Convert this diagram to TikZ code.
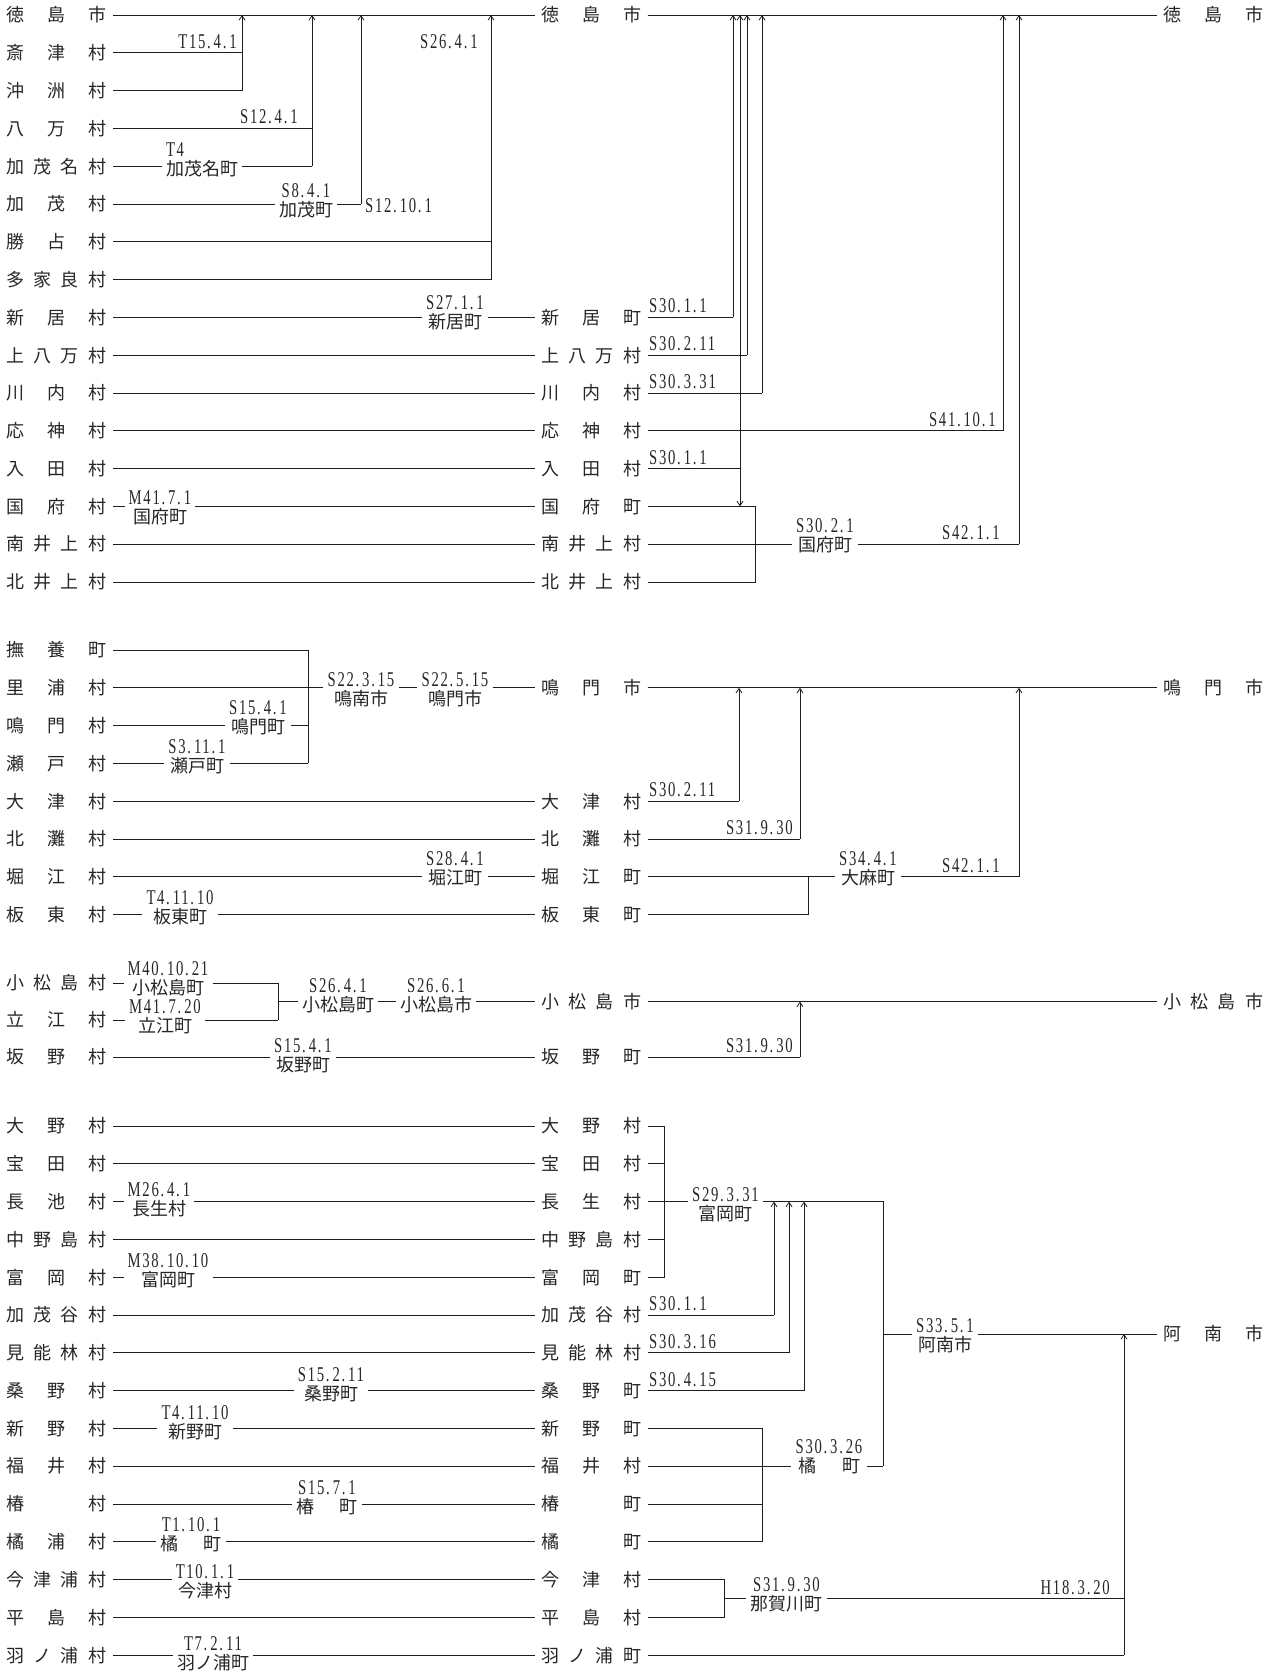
\documentclass[tikz,border=0pt]{standalone}
\usepackage{fontspec}
\usetikzlibrary{arrows.meta}
\newfontfamily\cjkf{Noto Sans CJK JP}
\newfontfamily\datef[FakeStretch=0.7,LetterSpace=8]{Liberation Serif}
\newcommand\nmf{\cjkf\fontsize{18}{19}\selectfont}
\newcommand\dtf{\datef\fontsize{21}{19}\selectfont}
\newcommand\pd{.\kern3pt}
\newcommand\spr[1]{\makebox[100pt][s]{#1}}
\newcommand\hf{\hfill}
\definecolor{txt}{HTML}{262626}
\definecolor{lc}{HTML}{1e1e1e}
\tikzset{
  rl/.style={anchor=west, inner xsep=6.5pt, inner ysep=1pt, font=\nmf, text=txt},
  nl/.style={align=center, inner xsep=4pt, inner ysep=0pt, font=\nmf, text=txt},
  dl/.style={inner sep=0pt, font=\dtf, text=txt},
  ln/.style={draw=lc, line width=0.9pt},
  ar/.style={ln, -{Straight Barb[length=4.5pt,width=6pt,line width=0.8pt]}},
}
\begin{document}
\begin{tikzpicture}[x=1pt,y=-1pt]
\path[use as bounding box] (0,0) rectangle (1274,1671);
% ================= Section 1 =================
\node[rl] (L0) at (-0.5,15) {\spr{徳\hf 島\hf 市}};
\node[rl] (L1) at (-0.5,52.8) {\spr{斎\hf 津\hf 村}};
\node[rl] (L2) at (-0.5,90.6) {\spr{沖\hf 洲\hf 村}};
\node[rl] (L3) at (-0.5,128.4) {\spr{八\hf 万\hf 村}};
\node[rl] (L4) at (-0.5,166.2) {\spr{加\hf 茂\hf 名\hf 村}};
\node[rl] (L5) at (-0.5,204) {\spr{加\hf 茂\hf 村}};
\node[rl] (L6) at (-0.5,241.8) {\spr{勝\hf 占\hf 村}};
\node[rl] (L7) at (-0.5,279.6) {\spr{多\hf 家\hf 良\hf 村}};
\node[rl] (L8) at (-0.5,317.4) {\spr{新\hf 居\hf 村}};
\node[rl] (L9) at (-0.5,355.2) {\spr{上\hf 八\hf 万\hf 村}};
\node[rl] (L10) at (-0.5,393) {\spr{川\hf 内\hf 村}};
\node[rl] (L11) at (-0.5,430.8) {\spr{応\hf 神\hf 村}};
\node[rl] (L12) at (-0.5,468.6) {\spr{入\hf 田\hf 村}};
\node[rl] (L13) at (-0.5,506.4) {\spr{国\hf 府\hf 村}};
\node[rl] (L14) at (-0.5,544.2) {\spr{南\hf 井\hf 上\hf 村}};
\node[rl] (L15) at (-0.5,582) {\spr{北\hf 井\hf 上\hf 村}};
\node[rl] (M0) at (534.5,15) {\spr{徳\hf 島\hf 市}};
\node[rl] (M8) at (534.5,317.4) {\spr{新\hf 居\hf 町}};
\node[rl] (M9) at (534.5,355.2) {\spr{上\hf 八\hf 万\hf 村}};
\node[rl] (M10) at (534.5,393) {\spr{川\hf 内\hf 村}};
\node[rl] (M11) at (534.5,430.8) {\spr{応\hf 神\hf 村}};
\node[rl] (M12) at (534.5,468.6) {\spr{入\hf 田\hf 村}};
\node[rl] (M13) at (534.5,506.4) {\spr{国\hf 府\hf 町}};
\node[rl] (M14) at (534.5,544.2) {\spr{南\hf 井\hf 上\hf 村}};
\node[rl] (M15) at (534.5,582) {\spr{北\hf 井\hf 上\hf 村}};
\node[rl] (R0) at (1156.5,15) {\spr{徳\hf 島\hf 市}};
% change labels
\node[nl, align=left] (n4) at (202,160.2) {{\dtf T4}\\加茂名町};
\node[nl] (n5) at (306,201) {{\dtf S8\pd 4\pd 1}\\加茂町};
\node[nl] (n8) at (455,312.4) {{\dtf S27\pd 1\pd 1}\\新居町};
\node[nl] (n13) at (160,507.4) {{\dtf M41\pd 7\pd 1}\\国府町};
\node[nl] (n14) at (825,536.2) {{\dtf S30\pd 2\pd 1}\\国府町};
\node[dl, anchor=base east] (d1) at (237,48.3) {T15\pd 4\pd 1};
\node[dl, anchor=base east] (d3) at (298,123.9) {S12\pd 4\pd 1};
\node[dl, anchor=west] (d5) at (365,205.5) {S12\pd 10\pd 1};
\node[dl, anchor=base east] (d7) at (478,48.3) {S26\pd 4\pd 1};
\node[dl, anchor=base west] (e8) at (649,312.9) {S30\pd 1\pd 1};
\node[dl, anchor=base west] (e9) at (649,350.7) {S30\pd 2\pd 11};
\node[dl, anchor=base west] (e10) at (649,388.5) {S30\pd 3\pd 31};
\node[dl, anchor=base east] (e11) at (996,426.3) {S41\pd 10\pd 1};
\node[dl, anchor=base west] (e12) at (649,464.1) {S30\pd 1\pd 1};
\node[dl, anchor=base east] (e14) at (1000,539.7) {S42\pd 1\pd 1};
% junctions
\coordinate (a1) at (242,52.8); \coordinate (a2) at (242,90.6);
\coordinate (a3) at (312,128.4); \coordinate (a4) at (312,166.2);
\coordinate (a5) at (361,204);
\coordinate (a6) at (491,241.8); \coordinate (a7) at (491,279.6);
\coordinate (c8) at (733,317.4); \coordinate (c9) at (747,355.2);
\coordinate (c10) at (762,393); \coordinate (c11) at (1003,430.8);
\coordinate (c12) at (740,468.6); \coordinate (c13) at (740,506.4);
\coordinate (k13) at (755,506.4); \coordinate (k15) at (755,582);
\coordinate (c14) at (1019,544.2);
% lines
\draw[ln] (L0.east) -- (M0.west);
\draw[ln] (M0.east) -- (R0.west);
\draw[ln] (L1.east) -- (a1);
\draw[ln] (L2.east) -- (a2);
\draw[ar] (a2) -- (a2 |- L0.east);
\draw[ln] (L3.east) -- (a3);
\draw[ln] (L4.east) -- (n4.west |- L4.east);
\draw[ln] (n4.east |- L4.east) -- (a4);
\draw[ar] (a4) -- (a4 |- L0.east);
\draw[ln] (L5.east) -- (n5.west |- L5.east);
\draw[ln] (n5.east |- L5.east) -- (a5);
\draw[ar] (a5) -- (a5 |- L0.east);
\draw[ln] (L6.east) -- (a6);
\draw[ln] (L7.east) -- (a7);
\draw[ar] (a7) -- (a7 |- L0.east);
\draw[ln] (L8.east) -- (n8.west |- L8.east);
\draw[ln] (n8.east |- L8.east) -- (M8.west);
\draw[ln] (L9.east) -- (M9.west);
\draw[ln] (L10.east) -- (M10.west);
\draw[ln] (L11.east) -- (M11.west);
\draw[ln] (L12.east) -- (M12.west);
\draw[ln] (L13.east) -- (n13.west |- L13.east);
\draw[ln] (n13.east |- L13.east) -- (M13.west);
\draw[ln] (L14.east) -- (M14.west);
\draw[ln] (L15.east) -- (M15.west);
\draw[ln] (M8.east) -- (c8);
\draw[ar] (c8) -- (c8 |- M0.east);
\draw[ln] (M9.east) -- (c9);
\draw[ar] (c9) -- (c9 |- M0.east);
\draw[ln] (M10.east) -- (c10);
\draw[ar] (c10) -- (c10 |- M0.east);
\draw[ln] (M11.east) -- (c11);
\draw[ar] (c11) -- (c11 |- M0.east);
\draw[ln] (M12.east) -- (c12);
\draw[ar] (c12) -- (c12 |- M0.east);
\draw[ar] (c12) -- (c13);
\draw[ln] (M13.east) -- (k13) -- (k15) -- (M15.east);
\draw[ln] (M14.east) -- (n14.west |- M14.east);
\draw[ln] (n14.east |- M14.east) -- (c14);
\draw[ar] (c14) -- (c14 |- M0.east);
% ================= Section 2 =================
\node[rl] (P0) at (-0.5,650) {\spr{撫\hf 養\hf 町}};
\node[rl] (P1) at (-0.5,687.8) {\spr{里\hf 浦\hf 村}};
\node[rl] (P2) at (-0.5,725.6) {\spr{鳴\hf 門\hf 村}};
\node[rl] (P3) at (-0.5,763.4) {\spr{瀬\hf 戸\hf 村}};
\node[rl] (P4) at (-0.5,801.2) {\spr{大\hf 津\hf 村}};
\node[rl] (P5) at (-0.5,839) {\spr{北\hf 灘\hf 村}};
\node[rl] (P6) at (-0.5,876.8) {\spr{堀\hf 江\hf 村}};
\node[rl] (P7) at (-0.5,914.6) {\spr{板\hf 東\hf 村}};
\node[rl] (Q1) at (534.5,687.8) {\spr{鳴\hf 門\hf 市}};
\node[rl] (Q4) at (534.5,801.2) {\spr{大\hf 津\hf 村}};
\node[rl] (Q5) at (534.5,839) {\spr{北\hf 灘\hf 村}};
\node[rl] (Q6) at (534.5,876.8) {\spr{堀\hf 江\hf 町}};
\node[rl] (Q7) at (534.5,914.6) {\spr{板\hf 東\hf 町}};
\node[rl] (RQ) at (1156.5,687.8) {\spr{鳴\hf 門\hf 市}};
\node[nl] (p1a) at (361,689.8) {{\dtf S22\pd 3\pd 15}\\鳴南市};
\node[nl] (p1b) at (455,689.8) {{\dtf S22\pd 5\pd 15}\\鳴門市};
\node[nl] (p2) at (258,717.6) {{\dtf S15\pd 4\pd 1}\\鳴門町};
\node[nl] (p3) at (197,756.4) {{\dtf S3\pd 11\pd 1}\\瀬戸町};
\node[nl] (p6) at (455,868.8) {{\dtf S28\pd 4\pd 1}\\堀江町};
\node[nl] (p7) at (180,907.6) {{\dtf T4\pd 11\pd 10}\\板東町};
\node[nl] (q6) at (868,868.8) {{\dtf S34\pd 4\pd 1}\\大麻町};
\node[dl, anchor=base west] (f4) at (649,796.7) {S30\pd 2\pd 11};
\node[dl, anchor=base east] (f5) at (793,834.5) {S31\pd 9\pd 30};
\node[dl, anchor=base east] (f6) at (1000,872.3) {S42\pd 1\pd 1};
\coordinate (b0) at (308,650); \coordinate (b2) at (308,725.6); \coordinate (b3) at (308,763.4);
\coordinate (g4) at (739,801.2); \coordinate (g5) at (800,839);
\coordinate (g6) at (1019,876.8); \coordinate (g7) at (808,914.6); \coordinate (g6b) at (808,876.8);
\draw[ln] (P0.east) -- (b0) -- (b3);
\draw[ln] (P1.east) -- (p1a.west |- P1.east);
\draw[ln] (p1a.east |- P1.east) -- (p1b.west |- P1.east);
\draw[ln] (p1b.east |- P1.east) -- (Q1.west);
\draw[ln] (P2.east) -- (p2.west |- P2.east);
\draw[ln] (p2.east |- P2.east) -- (b2);
\draw[ln] (P3.east) -- (p3.west |- P3.east);
\draw[ln] (p3.east |- P3.east) -- (b3);
\draw[ln] (P4.east) -- (Q4.west);
\draw[ln] (P5.east) -- (Q5.west);
\draw[ln] (P6.east) -- (p6.west |- P6.east);
\draw[ln] (p6.east |- P6.east) -- (Q6.west);
\draw[ln] (P7.east) -- (p7.west |- P7.east);
\draw[ln] (p7.east |- P7.east) -- (Q7.west);
\draw[ln] (Q1.east) -- (RQ.west);
\draw[ln] (Q4.east) -- (g4);
\draw[ar] (g4) -- (g4 |- Q1.east);
\draw[ln] (Q5.east) -- (g5);
\draw[ar] (g5) -- (g5 |- Q1.east);
\draw[ln] (Q6.east) -- (q6.west |- Q6.east);
\draw[ln] (q6.east |- Q6.east) -- (g6);
\draw[ar] (g6) -- (g6 |- Q1.east);
\draw[ln] (Q7.east) -- (g7) -- (g6b);
% ================= Section 3 =================
\node[rl] (K0) at (-0.5,983) {\spr{小\hf 松\hf 島\hf 村}};
\node[rl] (K1) at (-0.5,1020) {\spr{立\hf 江\hf 村}};
\node[rl] (K2) at (-0.5,1057) {\spr{坂\hf 野\hf 村}};
\node[rl] (KM) at (534.5,1001.5) {\spr{小\hf 松\hf 島\hf 市}};
\node[rl] (K2M) at (534.5,1057) {\spr{坂\hf 野\hf 町}};
\node[rl] (KR) at (1156.5,1001.5) {\spr{小\hf 松\hf 島\hf 市}};
\node[nl] (k0) at (168,979) {{\dtf M40\pd 10\pd 21}\\小松島町};
\node[nl] (k1) at (165,1017) {{\dtf M41\pd 7\pd 20}\\立江町};
\node[nl] (k2a) at (338,995.5) {{\dtf S26\pd 4\pd 1}\\小松島町};
\node[nl] (k2b) at (436,995.5) {{\dtf S26\pd 6\pd 1}\\小松島市};
\node[nl] (k3) at (303,1056) {{\dtf S15\pd 4\pd 1}\\坂野町};
\node[dl, anchor=base east] (g2) at (793,1052.5) {S31\pd 9\pd 30};
\coordinate (m0) at (278,983); \coordinate (m1) at (278,1020); \coordinate (mm) at (278,1001.5);
\coordinate (m3) at (800,1057);
\draw[ln] (K0.east) -- (k0.west |- K0.east);
\draw[ln] (k0.east |- K0.east) -- (m0) -- (m1);
\draw[ln] (K1.east) -- (k1.west |- K1.east);
\draw[ln] (k1.east |- K1.east) -- (m1);
\draw[ln] (mm) -- (k2a.west |- mm);
\draw[ln] (k2a.east |- mm) -- (k2b.west |- mm);
\draw[ln] (k2b.east |- mm) -- (KM.west);
\draw[ln] (K2.east) -- (k3.west |- K2.east);
\draw[ln] (k3.east |- K2.east) -- (K2M.west);
\draw[ln] (KM.east) -- (KR.west);
\draw[ln] (K2M.east) -- (m3);
\draw[ar] (m3) -- (m3 |- KM.east);
% ================= Section 4 =================
\node[rl] (A0) at (-0.5,1126) {\spr{大\hf 野\hf 村}};
\node[rl] (A1) at (-0.5,1163.8) {\spr{宝\hf 田\hf 村}};
\node[rl] (A2) at (-0.5,1201.6) {\spr{長\hf 池\hf 村}};
\node[rl] (A3) at (-0.5,1239.4) {\spr{中\hf 野\hf 島\hf 村}};
\node[rl] (A4) at (-0.5,1277.2) {\spr{富\hf 岡\hf 村}};
\node[rl] (A5) at (-0.5,1315) {\spr{加\hf 茂\hf 谷\hf 村}};
\node[rl] (A6) at (-0.5,1352.8) {\spr{見\hf 能\hf 林\hf 村}};
\node[rl] (A7) at (-0.5,1390.6) {\spr{桑\hf 野\hf 村}};
\node[rl] (A8) at (-0.5,1428.4) {\spr{新\hf 野\hf 村}};
\node[rl] (A9) at (-0.5,1466.2) {\spr{福\hf 井\hf 村}};
\node[rl] (A10) at (-0.5,1504) {\spr{椿\hf 村}};
\node[rl] (A11) at (-0.5,1541.8) {\spr{橘\hf 浦\hf 村}};
\node[rl] (A12) at (-0.5,1579.6) {\spr{今\hf 津\hf 浦\hf 村}};
\node[rl] (A13) at (-0.5,1617.4) {\spr{平\hf 島\hf 村}};
\node[rl] (A14) at (-0.5,1655.2) {\spr{羽\hf ノ\hf 浦\hf 村}};
\node[rl] (B0) at (534.5,1126) {\spr{大\hf 野\hf 村}};
\node[rl] (B1) at (534.5,1163.8) {\spr{宝\hf 田\hf 村}};
\node[rl] (B2) at (534.5,1201.6) {\spr{長\hf 生\hf 村}};
\node[rl] (B3) at (534.5,1239.4) {\spr{中\hf 野\hf 島\hf 村}};
\node[rl] (B4) at (534.5,1277.2) {\spr{富\hf 岡\hf 町}};
\node[rl] (B5) at (534.5,1315) {\spr{加\hf 茂\hf 谷\hf 村}};
\node[rl] (B6) at (534.5,1352.8) {\spr{見\hf 能\hf 林\hf 村}};
\node[rl] (B7) at (534.5,1390.6) {\spr{桑\hf 野\hf 町}};
\node[rl] (B8) at (534.5,1428.4) {\spr{新\hf 野\hf 町}};
\node[rl] (B9) at (534.5,1466.2) {\spr{福\hf 井\hf 村}};
\node[rl] (B10) at (534.5,1504) {\spr{椿\hf 町}};
\node[rl] (B11) at (534.5,1541.8) {\spr{橘\hf 町}};
\node[rl] (B12) at (534.5,1579.6) {\spr{今\hf 津\hf 村}};
\node[rl] (B13) at (534.5,1617.4) {\spr{平\hf 島\hf 村}};
\node[rl] (B14) at (534.5,1655.2) {\spr{羽\hf ノ\hf 浦\hf 町}};
\node[rl] (AN) at (1156.5,1334) {\spr{阿\hf 南\hf 市}};
\node[nl] (a2n) at (159,1199.6) {{\dtf M26\pd 4\pd 1}\\長生村};
\node[nl] (a4n) at (168,1271.2) {{\dtf M38\pd 10\pd 10}\\富岡町};
\node[nl] (a7n) at (331,1384.6) {{\dtf S15\pd 2\pd 11}\\桑野町};
\node[nl] (a8n) at (195,1422.4) {{\dtf T4\pd 11\pd 10}\\新野町};
\node[nl] (a10n) at (327,1498) {{\dtf S15\pd 7\pd 1}\\\makebox[62pt][s]{椿\hfill 町}};
\node[nl] (a11n) at (191,1534.8) {{\dtf T1\pd 10\pd 1}\\\makebox[62pt][s]{橘\hfill 町}};
\node[nl] (a12n) at (205,1581.6) {{\dtf T10\pd 1\pd 1}\\今津村};
\node[nl] (a14n) at (213,1654.2) {{\dtf T7\pd 2\pd 11}\\羽ノ浦町};
\node[nl] (b2n) at (725.5,1204.6) {{\dtf S29\pd 3\pd 31}\\富岡町};
\node[nl] (b3n) at (945,1336) {{\dtf S33\pd 5\pd 1}\\阿南市};
\node[nl] (b9n) at (829,1457.2) {{\dtf S30\pd 3\pd 26}\\\makebox[62pt][s]{橘\hfill 町}};
\node[nl] (b12n) at (786.5,1594.5) {{\dtf S31\pd 9\pd 30}\\那賀川町};
\node[dl, anchor=base west] (h5) at (649,1310.5) {S30\pd 1\pd 1};
\node[dl, anchor=base west] (h6) at (649,1348.3) {S30\pd 3\pd 16};
\node[dl, anchor=base west] (h7) at (649,1386.1) {S30\pd 4\pd 15};
\node[dl, anchor=base east] (h12) at (1110,1594) {H18\pd 3\pd 20};
\coordinate (e0) at (664,1126); \coordinate (e1) at (664,1163.8);
\coordinate (e3) at (664,1239.4); \coordinate (e4) at (664,1277.2);
\coordinate (f2) at (883,1201.6); \coordinate (f9) at (883,1466.2); \coordinate (fan) at (883,1334);
\coordinate (g5) at (774,1315); \coordinate (g6) at (789,1352.8); \coordinate (g7) at (804,1390.6);
\coordinate (t8) at (762,1428.4); \coordinate (t10) at (762,1504); \coordinate (t11) at (762,1541.8);
\coordinate (u12) at (724,1579.6); \coordinate (u13) at (724,1617.4); \coordinate (um) at (724,1598.5);
\coordinate (v12) at (1124,1598.5); \coordinate (v14) at (1124,1655.2);
% left lines
\draw[ln] (A0.east) -- (B0.west);
\draw[ln] (A1.east) -- (B1.west);
\draw[ln] (A2.east) -- (a2n.west |- A2.east);
\draw[ln] (a2n.east |- A2.east) -- (B2.west);
\draw[ln] (A3.east) -- (B3.west);
\draw[ln] (A4.east) -- (a4n.west |- A4.east);
\draw[ln] (a4n.east |- A4.east) -- (B4.west);
\draw[ln] (A5.east) -- (B5.west);
\draw[ln] (A6.east) -- (B6.west);
\draw[ln] (A7.east) -- (a7n.west |- A7.east);
\draw[ln] (a7n.east |- A7.east) -- (B7.west);
\draw[ln] (A8.east) -- (a8n.west |- A8.east);
\draw[ln] (a8n.east |- A8.east) -- (B8.west);
\draw[ln] (A9.east) -- (B9.west);
\draw[ln] (A10.east) -- (a10n.west |- A10.east);
\draw[ln] (a10n.east |- A10.east) -- (B10.west);
\draw[ln] (A11.east) -- (a11n.west |- A11.east);
\draw[ln] (a11n.east |- A11.east) -- (B11.west);
\draw[ln] (A12.east) -- (a12n.west |- A12.east);
\draw[ln] (a12n.east |- A12.east) -- (B12.west);
\draw[ln] (A13.east) -- (B13.west);
\draw[ln] (A14.east) -- (a14n.west |- A14.east);
\draw[ln] (a14n.east |- A14.east) -- (B14.west);
% right lines
\draw[ln] (B0.east) -- (e0) -- (e4) -- (B4.east);
\draw[ln] (B1.east) -- (e1);
\draw[ln] (B3.east) -- (e3);
\draw[ln] (B2.east) -- (b2n.west |- B2.east);
\draw[ln] (b2n.east |- B2.east) -- (f2) -- (f9);
\draw[ln] (B5.east) -- (g5);
\draw[ar] (g5) -- (g5 |- B2.east);
\draw[ln] (B6.east) -- (g6);
\draw[ar] (g6) -- (g6 |- B2.east);
\draw[ln] (B7.east) -- (g7);
\draw[ar] (g7) -- (g7 |- B2.east);
\draw[ln] (fan) -- (b3n.west |- fan);
\draw[ln] (b3n.east |- fan) -- (AN.west);
\draw[ln] (B8.east) -- (t8) -- (t11) -- (B11.east);
\draw[ln] (B10.east) -- (t10);
\draw[ln] (B9.east) -- (b9n.west |- B9.east);
\draw[ln] (b9n.east |- B9.east) -- (f9);
\draw[ln] (B12.east) -- (u12) -- (u13) -- (B13.east);
\draw[ln] (um) -- (b12n.west |- um);
\draw[ln] (b12n.east |- um) -- (v12);
\draw[ln] (B14.east) -- (v14);
\draw[ar] (v14) -- (v14 |- AN.west);
\end{tikzpicture}
\end{document}
